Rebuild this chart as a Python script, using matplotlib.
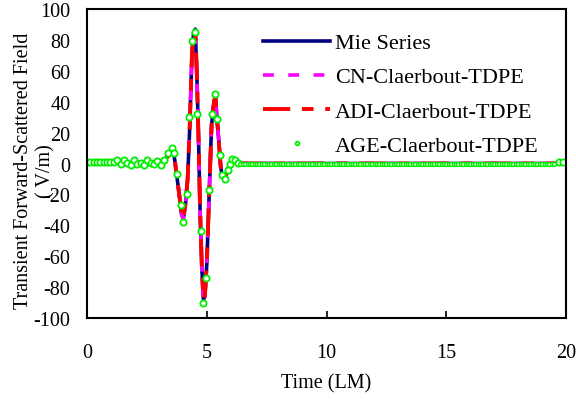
import matplotlib.pyplot as plt

plt.rcParams['font.family'] = ['Liberation Serif', 'DejaVu Serif']
plt.rcParams['axes.unicode_minus'] = False

# Mie series (reference solution)
mie_t = [0.0, 1.0, 2.0, 3.0, 3.2, 3.4, 3.55, 3.62, 3.7, 3.85, 3.95, 4.02, 4.12, 4.2,
         4.28, 4.38, 4.45, 4.52, 4.58, 4.65, 4.72, 4.8, 4.86, 4.92, 5.0, 5.1,
         5.2, 5.3, 5.36, 5.42, 5.5, 5.58, 5.65, 5.75, 5.85, 5.95, 6.1, 6.3,
         7.0, 10.0, 15.0, 20.0]
mie_v = [0.0, 0.0, 0.5, 1.0, 2.0, 5.0, 8.0, 7.0, -2.0, -20.0, -33.0, -36.0, -25.0, -10.0,
         20.0, 70.0, 85.0, 87.0, 60.0, 20.0, -30.0, -70.0, -88.0, -86.0, -65.0, -20.0,
         25.0, 40.0, 44.0, 30.0, 15.0, -2.0, -9.0, -10.0, -5.0, 0.0, 2.0, 0.0,
         0.0, 0.0, 0.0, 0.0]

# CN and ADI solutions overlap the Mie curve
cn_t = mie_t
cn_v = mie_v
adi_t = mie_t
adi_v = mie_v

# AGE solution (markers)
age_t = [0.0, 0.14, 0.28, 0.42, 0.56, 0.7, 0.84, 0.98, 1.12, 1.26, 1.4, 1.54,
         1.68, 1.82, 1.96, 2.1, 2.24, 2.38, 2.52, 2.66, 2.8, 2.94, 3.08, 3.22,
         3.39, 3.54, 3.64, 3.77, 3.91, 4.02, 4.16, 4.27, 4.37, 4.51, 4.6, 4.74,
         4.83, 4.97, 5.11, 5.21, 5.34, 5.41, 5.55, 5.62, 5.76, 5.9, 5.97, 6.05,
         6.16, 6.3, 19.7, 19.85]
age_v = [1.0, 1.0, 1.0, 1.0, 1.0, 1.0, 1.0, 1.0, 1.0, 2.0, 0.0, 2.5,
         0.5, -1.0, 2.0, 0.0, 0.5, -1.0, 2.0, 0.5, -0.5, 1.5, -1.0, 2.5,
         7.0, 10.0, 7.0, -7.0, -27.0, -38.0, -20.0, 30.0, 79.0, 85.0, 32.0, -44.0,
         -90.0, -74.0, -17.0, 32.0, 45.0, 29.0, 5.5, -7.5, -10.0, -4.5, 0.0, 3.0,
         2.0, 0.5, 1.0, 1.0]
age_tail_t = [6.4, 6.5, 6.6, 6.7, 6.8, 6.9, 7.0, 7.1, 7.2, 7.3,
              7.4, 7.5, 7.6, 7.7, 7.8, 7.9, 8.0, 8.1, 8.2, 8.3,
              8.4, 8.5, 8.6, 8.7, 8.8, 8.9, 9.0, 9.1, 9.2, 9.3,
              9.4, 9.5, 9.6, 9.7, 9.8, 9.9, 10.0, 10.1, 10.2, 10.3,
              10.4, 10.5, 10.6, 10.7, 10.8, 10.9, 11.0, 11.1, 11.2, 11.3,
              11.4, 11.5, 11.6, 11.7, 11.8, 11.9, 12.0, 12.1, 12.2, 12.3,
              12.4, 12.5, 12.6, 12.7, 12.8, 12.9, 13.0, 13.1, 13.2, 13.3,
              13.4, 13.5, 13.6, 13.7, 13.8, 13.9, 14.0, 14.1, 14.2, 14.3,
              14.4, 14.5, 14.6, 14.7, 14.8, 14.9, 15.0, 15.1, 15.2, 15.3,
              15.4, 15.5, 15.6, 15.7, 15.8, 15.9, 16.0, 16.1, 16.2, 16.3,
              16.4, 16.5, 16.6, 16.7, 16.8, 16.9, 17.0, 17.1, 17.2, 17.3,
              17.4, 17.5, 17.6, 17.7, 17.8, 17.9, 18.0, 18.1, 18.2, 18.3,
              18.4, 18.5, 18.6, 18.7, 18.8, 18.9, 19.0, 19.1, 19.2, 19.3,
              19.4, 19.5]
age_tail_v = [0.0] * len(age_tail_t)

fig = plt.figure(figsize=(5.76, 4.02), dpi=100)
ax = fig.add_axes([0.151, 0.2065, 0.832, 0.7685])

ax.plot(mie_t, mie_v, color='#000080', lw=2.6, label='Mie Series')
ax.plot(cn_t, cn_v, color='#ff00ff', lw=2.6, dashes=(3, 4), label='CN-Claerbout-TDPE')
ax.plot(adi_t, adi_v, color='#ff0000', lw=2.8, dashes=(7, 3, 3, 3), label='ADI-Claerbout-TDPE')
ax.plot(age_t, age_v, ls='none', marker='o', ms=4.5, mfc='white', mec='#00ee00',
        mew=1.3, label='AGE-Claerbout-TDPE')
ax.plot(age_tail_t, age_tail_v, ls='none', marker='o', ms=2.8, mfc='white',
        mec='#00ee00', mew=1.0)

ax.set_xlim(0, 20)
ax.set_ylim(-100, 100)
ax.set_xticks([0, 5, 10, 15, 20])
ax.set_yticks(range(-100, 101, 20))
ax.tick_params(axis='x', direction='in', length=5, width=1.2, pad=18, labelsize=14.5)
ax.tick_params(axis='y', length=0, pad=12, labelsize=14.5)
for s in ax.spines.values():
    s.set_linewidth(1.5)

ax.set_xlabel('Time (LM)', fontsize=14.5, labelpad=8)
ax.set_ylabel('Transient Forward-Scattered Field\n( V/m)', fontsize=14.5,
              linespacing=1.2)
ax.yaxis.set_label_coords(-0.066, 0.48)

ax.legend(loc='upper left', bbox_to_anchor=(0.326, 0.988), frameon=False,
          fontsize=16, handlelength=3.0, handletextpad=0.23, labelspacing=0.61,
          markerscale=0.6)

fig.savefig('out.png', dpi=100)
